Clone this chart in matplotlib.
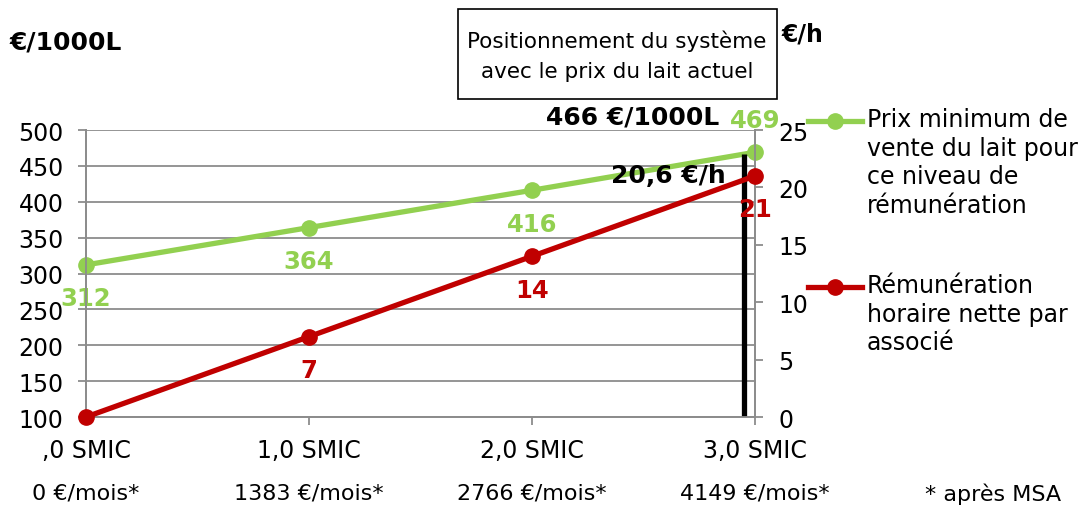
import matplotlib
matplotlib.use("Agg")
import matplotlib.pyplot as plt
from matplotlib.lines import Line2D
from matplotlib.patches import Rectangle

# data
levels = [0, 1, 2, 3]
level_labels = [",0 SMIC", "1,0 SMIC", "2,0 SMIC", "3,0 SMIC"]
monthly_labels = ["0 €/mois*", "1383 €/mois*", "2766 €/mois*", "4149 €/mois*"]
milk_price = [312, 364, 416, 469]
hourly_pay = [0, 7, 14, 21]
current_price = 466
current_level = 2.95
current_pay = 20.6

GREEN = "#92D050"
RED = "#C00000"
GRID = "#8C8C8C"

plt.rcParams["font.family"] = ["DejaVu Sans"]

fig = plt.figure(figsize=(10.84, 5.06), dpi=100)
ax = fig.add_axes([0.0793, 0.1739, 0.6172, 0.5672])
ax2 = ax.twinx()

ax.set_xlim(0, 3)
ax.set_ylim(100, 500)
ax.set_yticks(range(100, 501, 50))
ax2.set_ylim(0, 25)
ax2.set_yticks(range(0, 26, 5))
ax.set_xticks(levels)
ax.set_xticklabels(level_labels)

ax.grid(axis="y", color=GRID, lw=1.3)
ax.set_axisbelow(True)
for a in (ax, ax2):
    a.spines["top"].set_visible(False)
    for side in ("left", "right", "bottom"):
        a.spines[side].set_color(GRID)
        a.spines[side].set_linewidth(1.3)
ax.tick_params(axis="y", length=6, width=1.3, color=GRID, labelsize=17, pad=10)
ax.tick_params(axis="x", length=6, width=1.3, color=GRID, labelsize=17, pad=9)
ax2.tick_params(axis="y", length=6, width=1.3, color=GRID, labelsize=17, pad=11)

ax.plot(levels, milk_price, color=GREEN, lw=3.8, marker="o", ms=11, clip_on=False, zorder=3)
ax2.plot(levels, hourly_pay, color=RED, lw=3.8, marker="o", ms=11, clip_on=False, zorder=3)
ax.vlines(current_level, 100, current_price, color="black", lw=3.8, zorder=4)

for i, (x, v) in enumerate(zip(levels, milk_price)):
    dy = 23 if i == len(levels) - 1 else -24
    ax.annotate(str(v), (x, v), xytext=(0, dy), textcoords="offset points",
                ha="center", va="center", color=GREEN, fontsize=17.5, fontweight="bold",
                annotation_clip=False)
for x, v in zip(levels[1:], hourly_pay[1:]):
    ax2.annotate(str(v), (x, v), xytext=(0, -24), textcoords="offset points",
                 ha="center", va="center", color=RED, fontsize=17.5, fontweight="bold",
                 annotation_clip=False)

ax.annotate(f"{current_price} €/1000L", (current_level, current_price), xytext=(-80, 27),
            textcoords="offset points", ha="center", va="center", fontsize=18,
            fontweight="bold", annotation_clip=False)
ax2.annotate("20,6 €/h", (current_level, current_pay), xytext=(-54, 4),
             textcoords="offset points", ha="center", va="center", fontsize=18,
             fontweight="bold", annotation_clip=False)

# axis titles
fig.text(10 / 1084, 1 - 42 / 506, "€/1000L", ha="left", va="center", fontsize=18, fontweight="bold")
fig.text(782 / 1084, 1 - 35 / 506, "€/h", ha="left", va="center", fontsize=17, fontweight="bold")

# framed note
fig.add_artist(Rectangle((458 / 1084, 1 - 100 / 506), 319 / 1084, 90 / 506,
                         transform=fig.transFigure, fill=False, ec="black", lw=1.2))
fig.text(617 / 1084, 1 - 56 / 506, "Positionnement du système\navec le prix du lait actuel",
         ha="center", va="center", fontsize=15.5, linespacing=1.6)

# monthly income row
for x, lab in zip(levels, monthly_labels):
    px = ax.transData.transform((x, 100))[0] / fig.bbox.width
    fig.text(px, 1 - 494 / 506, lab, ha="center", va="center", fontsize=16)
fig.text(993 / 1084, 1 - 494 / 506, "* après MSA", ha="center", va="center", fontsize=16)

# legend
legend_items = [
    (GREEN, "Prix minimum de\nvente du lait pour\nce niveau de\nrémunération", 122),
    (RED, "Rémunération\nhoraire nette par\nassocié", 288),
]
for color, text, y in legend_items:
    fy = 1 - y / 506
    fig.add_artist(Line2D([808 / 1084, 862 / 1084], [fy, fy], transform=fig.transFigure,
                          color=color, lw=3.8))
    fig.add_artist(Line2D([835 / 1084], [fy], transform=fig.transFigure, color=color,
                          marker="o", ms=11))
    fig.text(867 / 1084, fy + 14 / 506, text, ha="left", va="top", fontsize=17, linespacing=1.25)

fig.savefig("out.png", dpi=100, facecolor="white")
